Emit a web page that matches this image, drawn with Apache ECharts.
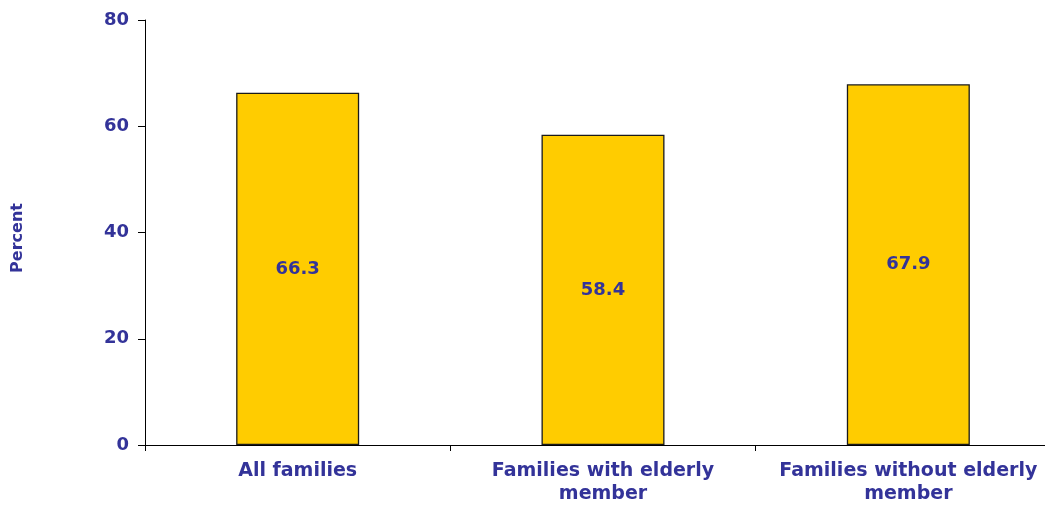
<!DOCTYPE html>
<html>
<head>
<meta charset="utf-8">
<style>
  html, body { margin: 0; padding: 0; background: #ffffff; overflow: hidden; }
  /* the last category runs a little past the right edge of the window */
  #chart { width: 1061px; height: 506px; }
</style>
<script src="https://cdn.jsdelivr.net/npm/echarts@6/dist/echarts.min.js"></script>
</head>
<body>
<div id="chart"></div>
<script>
// Family groups along the horizontal axis
const categories = ['All families', 'Families with elderly\nmember', 'Families without elderly\nmember'];
// Share of families, in percent
const percentValues = [66.3, 58.4, 67.9];
// Vertical axis range
const yTicks = [0, 20, 40, 60, 80];

const textColor = '#333399';
const fontFamily = '"DejaVu Sans", Verdana, sans-serif';
const chart = echarts.init(document.getElementById('chart'), null, { renderer: 'canvas' });

chart.setOption({
  animation: false,
  backgroundColor: '#ffffff',
  grid: { left: 145, right: 0, top: 20, bottom: 61, containLabel: false },
  // vertical axis title
  graphic: [{
    type: 'text',
    x: 18,
    y: 238,
    rotation: Math.PI / 2,
    style: {
      text: 'Percent',
      fill: textColor,
      font: 'bold 16px ' + fontFamily,
      align: 'center',
      verticalAlign: 'middle'
    }
  }],
  xAxis: {
    type: 'category',
    data: categories,
    axisLine: { lineStyle: { color: '#000000', width: 1 } },
    axisTick: { show: true, interval: 0, length: 6, lineStyle: { color: '#000000' } },
    axisLabel: {
      interval: 0,
      color: textColor,
      fontFamily: fontFamily,
      fontWeight: 'bold',
      fontSize: 19,
      lineHeight: 23,
      margin: 15
    },
    splitLine: { show: false }
  },
  yAxis: {
    type: 'value',
    min: yTicks[0],
    max: yTicks[yTicks.length - 1],
    interval: 20,
    axisLine: { show: true, lineStyle: { color: '#000000', width: 1 } },
    axisTick: { show: true, length: 7, lineStyle: { color: '#000000' } },
    axisLabel: {
      color: textColor,
      fontFamily: fontFamily,
      fontWeight: 'bold',
      fontSize: 18,
      margin: 16
    },
    splitLine: { show: false }
  },
  series: [{
    type: 'bar',
    data: percentValues,
    barWidth: 123,
    itemStyle: { color: '#ffcc00', borderColor: '#1a1a1a', borderWidth: 1.3 },
    label: {
      show: true,
      position: 'inside',
      color: textColor,
      fontFamily: fontFamily,
      fontWeight: 'bold',
      fontSize: 18,
      formatter: p => p.value.toFixed(1)
    }
  }]
});
</script>
</body>
</html>
